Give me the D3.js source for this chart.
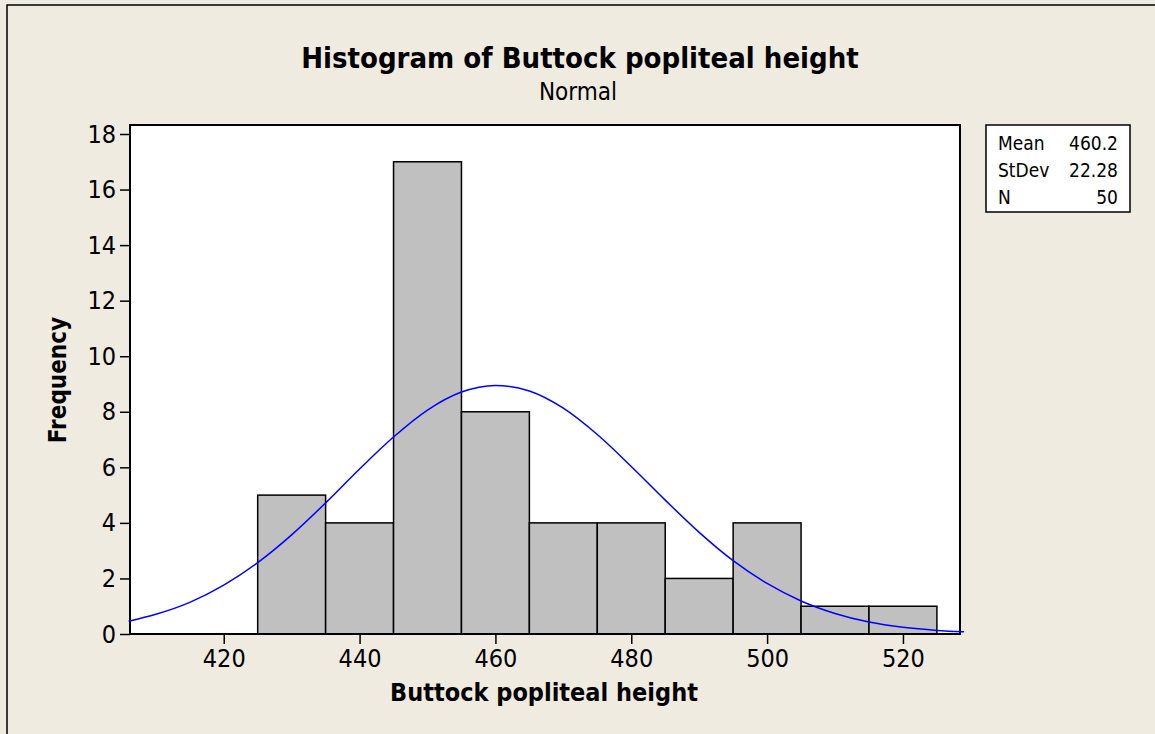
<!DOCTYPE html>
<html>
<head>
<meta charset="utf-8">
<script src="https://cdn.jsdelivr.net/npm/d3@7"></script>
<style>
  body { margin: 0; background: #EFEBE1; }
  svg { display: block; font-family: "DejaVu Sans Condensed", "DejaVu Sans", sans-serif; }
</style>
</head>
<body>
<div id="chart"></div>
<script>
// histogram bins (lower edge, count)
const binStarts = [425, 435, 445, 455, 465, 475, 485, 495, 505, 515];
const binWidth = 10;
const counts = [5, 4, 17, 8, 4, 4, 2, 4, 1, 1];

// fitted normal curve
const curveX = [406, 410, 415, 420, 425, 430, 435, 440, 445, 450, 455, 460, 465, 470, 475, 480, 485, 490, 495, 500, 505, 510, 515, 520, 525, 529];
const curveY = [0.46, 0.71, 1.14, 1.76, 2.57, 3.57, 4.72, 5.94, 7.09, 8.06, 8.71, 8.95, 8.75, 8.13, 7.18, 6.03, 4.82, 3.66, 2.64, 1.82, 1.19, 0.74, 0.43, 0.24, 0.13, 0.08];

const xTicks = [420, 440, 460, 480, 500, 520];
const yTicks = [0, 2, 4, 6, 8, 10, 12, 14, 16, 18];

const statLabels = ["Mean", "StDev", "N"];
const statValues = ["460.2", "22.28", "50"];

const width = 1155, height = 734;
const plot = {left: 130, right: 960, top: 125, bottom: 634};

const svg = d3.select("#chart").append("svg")
    .attr("width", width)
    .attr("height", height);

// outer frame (only top/left visible in the crop)
svg.append("rect")
    .attr("x", 7).attr("y", 5)
    .attr("width", width + 20).attr("height", height + 20)
    .attr("fill", "#EFEBE1")
    .attr("stroke", "#000").attr("stroke-width", 1.5);

const x = d3.scaleLinear().domain([406.2, 528.4]).range([plot.left, plot.right]);
const y = d3.scaleLinear().domain([0, 18]).range([plot.bottom, 134]);

// plot area
svg.append("rect")
    .attr("x", plot.left).attr("y", plot.top)
    .attr("width", plot.right - plot.left).attr("height", plot.bottom - plot.top)
    .attr("fill", "#fff");

// bars
svg.append("g").selectAll("rect")
    .data(counts)
    .join("rect")
    .attr("x", (d, i) => x(binStarts[i]))
    .attr("y", d => y(d))
    .attr("width", (d, i) => x(binStarts[i] + binWidth) - x(binStarts[i]))
    .attr("height", d => y(0) - y(d))
    .attr("fill", "#C0C0C0")
    .attr("stroke", "#000")
    .attr("stroke-width", 1.5);

// frame
svg.append("rect")
    .attr("x", plot.left).attr("y", plot.top)
    .attr("width", plot.right - plot.left).attr("height", plot.bottom - plot.top)
    .attr("fill", "none")
    .attr("stroke", "#000").attr("stroke-width", 2);

// normal curve
const line = d3.line()
    .x((d, i) => x(curveX[i]))
    .y(d => y(d))
    .curve(d3.curveMonotoneX);
svg.append("path")
    .datum(curveY)
    .attr("fill", "none")
    .attr("stroke", "#0000FF")
    .attr("stroke-width", 1.5)
    .attr("d", line);

// axes
const xAxis = svg.append("g")
    .attr("transform", `translate(0,${plot.bottom})`)
    .call(d3.axisBottom(x).tickValues(xTicks).tickSize(10).tickPadding(5));
const yAxis = svg.append("g")
    .attr("transform", `translate(${plot.left},0)`)
    .call(d3.axisLeft(y).tickValues(yTicks).tickSize(10).tickPadding(4));
[xAxis, yAxis].forEach(a => {
    a.select(".domain").remove();
    a.selectAll("line").attr("stroke", "#000").attr("stroke-width", 1.5);
    a.selectAll("text")
        .attr("fill", "#000")
        .style("font-family", '"DejaVu Sans Condensed", "DejaVu Sans", sans-serif')
        .style("font-size", "25px");
});

// titles
svg.append("text")
    .attr("x", 580).attr("y", 68)
    .attr("text-anchor", "middle")
    .style("font-size", "29px").style("font-weight", "bold")
    .text("Histogram of Buttock popliteal height");
svg.append("text")
    .attr("x", 578).attr("y", 100)
    .attr("text-anchor", "middle")
    .style("font-size", "24px")
    .text("Normal");
svg.append("text")
    .attr("x", 544).attr("y", 701)
    .attr("text-anchor", "middle")
    .style("font-size", "25px").style("font-weight", "bold")
    .text("Buttock popliteal height");
svg.append("text")
    .attr("transform", "translate(66,380) rotate(-90)")
    .attr("text-anchor", "middle")
    .style("font-size", "24px").style("font-weight", "bold")
    .text("Frequency");

// stats box
const box = svg.append("g").attr("transform", "translate(986,125)");
box.append("rect")
    .attr("width", 144).attr("height", 87)
    .attr("fill", "#fff")
    .attr("stroke", "#000").attr("stroke-width", 1.5);
box.selectAll("text.lab")
    .data(statLabels)
    .join("text")
    .attr("class", "lab")
    .attr("x", 12)
    .attr("y", (d, i) => 25 + i * 27)
    .style("font-size", "19px")
    .text(d => d);
box.selectAll("text.val")
    .data(statValues)
    .join("text")
    .attr("class", "val")
    .attr("x", 132)
    .attr("y", (d, i) => 25 + i * 27)
    .attr("text-anchor", "end")
    .style("font-size", "19px")
    .text(d => d);
</script>
</body>
</html>
